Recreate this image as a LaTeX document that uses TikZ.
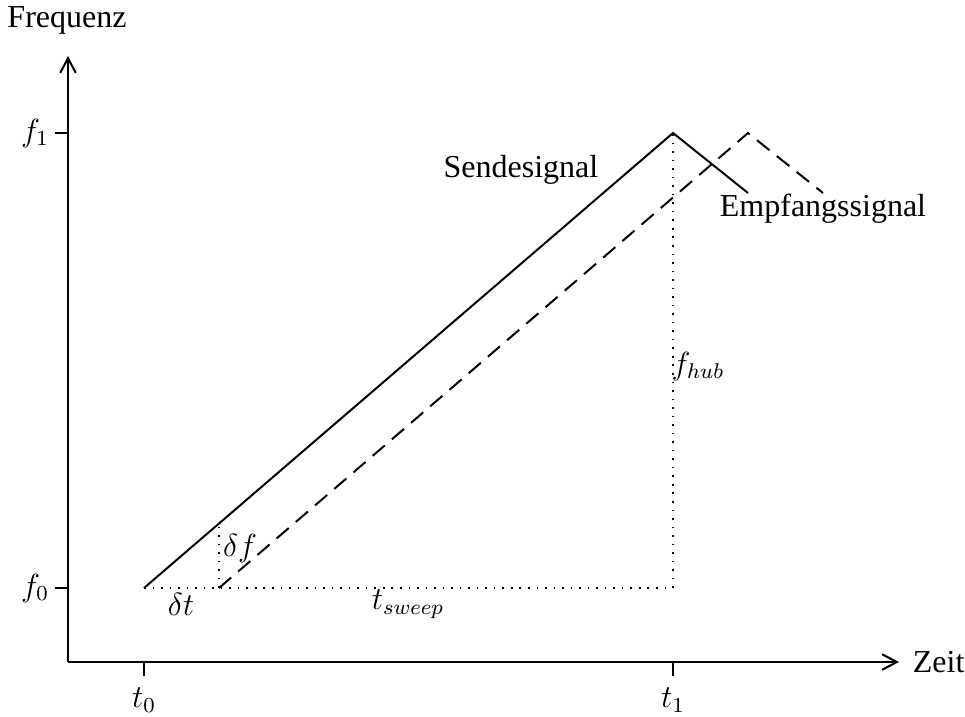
\documentclass[tikz,border=0pt,12pt]{standalone}
\usepackage{fontspec}
\setmainfont{Liberation Serif}
\usetikzlibrary{arrows.meta, positioning}

\begin{document}
\begin{tikzpicture}[x=0.375pt, y=-0.375pt,
  axis/.style={line width=0.75pt, -{Straight Barb[length=5.5pt, width=5.8pt]}},
  tick/.style={line width=0.75pt},
  send/.style={line width=0.75pt},
  empf/.style={line width=0.75pt, dash pattern=on 6pt off 3.5pt},
  hilf/.style={line width=0.6pt, dash pattern=on 0.6pt off 2.6pt},
  lbl/.style={inner sep=1pt}
]
\useasboundingbox (0,0) rectangle (965,716);

% Achsen
\coordinate (O) at (68,662);
\coordinate (ytop) at (68,56);
\coordinate (xend) at (899,662);
\draw [axis] (O) -- (ytop);
\draw [axis] (O) -- (xend);
\node (freq) [lbl] at (67,20) {Frequenz};
\node (zeit) [lbl, right=4pt of xend] {Zeit};

% Markierungen
\coordinate (f1) at (68,133);
\coordinate (f0) at (68,588);
\coordinate (t0) at (144,662);
\coordinate (t1) at (673,662);
\draw [tick] (f1) -- ++(-13,0) coordinate (f1m);
\draw [tick] (f0) -- ++(-13,0) coordinate (f0m);
\draw [tick] (t0) -- ++(0,14) coordinate (t0m);
\draw [tick] (t1) -- ++(0,14) coordinate (t1m);
\node (f1lbl) [lbl, left=1pt of f1m] {$f_1$};
\node (f0lbl) [lbl, left=1pt of f0m] {$f_0$};
\node (t0lbl) [lbl] at (144,700) {$t_0$};
\node (t1lbl) [lbl] at (673,700) {$t_1$};

% Signale
\coordinate (s0) at (144,588);
\coordinate (s1) at (673,133);
\coordinate (s2) at (748,193);
\coordinate (e0) at (219,588);
\coordinate (e1) at (748,133);
\coordinate (e2) at (823,193);
\draw [send] (s0) -- (s1) -- (s2);
\draw [empf] (e0) -- (e1) -- (e2);

% Hilfslinien
\coordinate (sb) at (673,588);
\coordinate (df) at (219,523.5);
\draw [hilf] (s0) -- (sb) -- (s1);
\draw [hilf] (e0) -- (df);

% Beschriftung
\node (dflbl) [lbl] at (240,548) {$\delta f$};
\node (dtlbl) [lbl] at (181,604) {$\delta t$};
\node (swlbl) [lbl] at (408,604) {$t_{sweep}$};
\node (hublbl) [lbl] at (698,366) {$f_{hub}$};
\node (send) [lbl] at (521,170) {Sendesignal};
\node (empf) [lbl] at (823,209) {Empfangssignal};

\end{tikzpicture}
\end{document}
